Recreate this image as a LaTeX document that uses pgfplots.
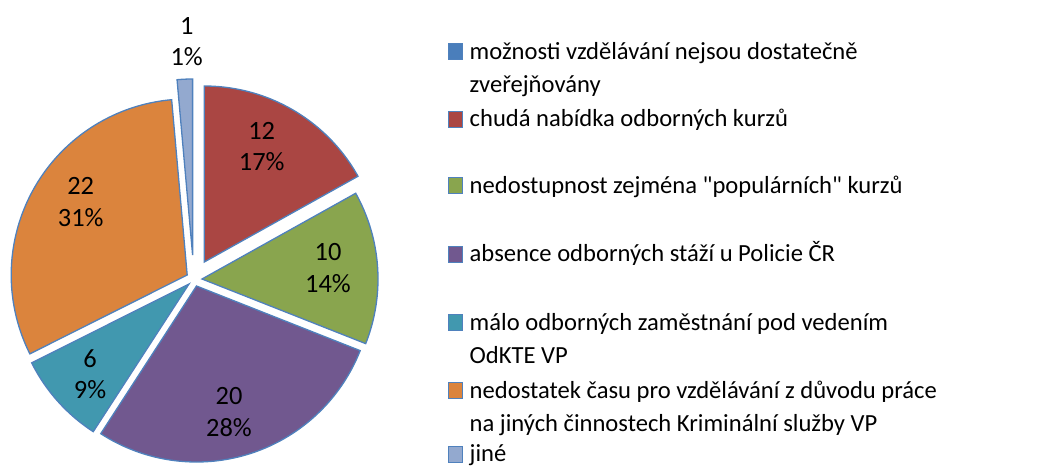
\documentclass[border=0pt]{standalone}
\usepackage{pgfplots}
\pgfplotsset{compat=1.18}
\usepackage{fontspec}
\setmainfont{Carlito}[Ligatures=TeXOff]
\definecolor{cA}{HTML}{4A7EBB}
\definecolor{cB}{HTML}{AA4643}
\definecolor{cC}{HTML}{89A54E}
\definecolor{cD}{HTML}{71588F}
\definecolor{cE}{HTML}{4198AF}
\definecolor{cF}{HTML}{DB843D}
\definecolor{cG}{HTML}{93A9CF}
\definecolor{edgeblue}{HTML}{4F81BD}
\def\total{71}
\def\cum{0}
% #1 value, #2 #3 slice centre (px), #4 colour
\newcommand\slice[4]{%
  \pgfmathsetmacro\sa{90-\cum*(360/\total)}%
  \pgfmathsetmacro\cumnew{\cum+#1}%
  \pgfmathsetmacro\sb{90-\cumnew*(360/\total)}%
  \global\let\cum\cumnew
  \edef\doit{\noexpand\addplot[fill=#4, draw=edgeblue, line width=0.65pt, domain=\sb:\sa, samples=90]
    ({#2+176*cos(x)},{#3-176*sin(x)}) -- (axis cs:#2,#3) -- cycle;}%
  \doit
}
% legend key: #1 colour, #2 baseline (px)
\newcommand\lkey[2]{%
  \pgfmathsetmacro\kt{#2-15.5}\pgfmathsetmacro\kb{#2+0.5}%
  \edef\doit{\noexpand\addplot[fill=#1, draw=edgeblue, line width=0.6pt]
    coordinates {(448.3,\kt) (462.7,\kt) (462.7,\kb) (448.3,\kb)} -- cycle;}%
  \doit
}
\begin{document}
\begin{tikzpicture}
\begin{axis}[width=522pt,height=233pt,scale only axis,
  xmin=0,xmax=1044,ymin=0,ymax=466,y dir=reverse,hide axis,clip=false]
\slice{12}{204.3}{262}{cB}
\slice{10}{202}{279}{cC}
\slice{20}{196.5}{286}{cD}
\slice{6}{189}{284}{cE}
\slice{22}{187.2}{275}{cF}
\slice{1}{192.6}{255}{cG}
\lkey{cA}{59.3}
\lkey{cB}{126.7}
\lkey{cC}{193.3}
\lkey{cD}{261.7}
\lkey{cE}{330}
\lkey{cF}{398.3}
\lkey{cG}{461.7}
\begin{scope}[every node/.style={anchor=base west,inner sep=0pt,font=\fontsize{12.3}{15}\selectfont}]
\node at (axis cs:469.3,59.3) {možnosti vzdělávání nejsou dostatečně};
\node at (axis cs:469.3,92.7) {zveřejňovány};
\node at (axis cs:469.3,126.7) {chudá nabídka odborných kurzů};
\node at (axis cs:469.3,193.3) {nedostupnost zejména "populárních" kurzů};
\node at (axis cs:469.3,261.7) {absence odborných stáží u Policie ČR};
\node at (axis cs:469.3,330) {málo odborných zaměstnání pod vedením};
\node at (axis cs:469.3,363.3) {OdKTE VP};
\node at (axis cs:469.3,398.3) {nedostatek času pro vzdělávání z důvodu práce};
\node at (axis cs:469.3,431.7) {na jiných činnostech Kriminální služby VP};
\node at (axis cs:469.3,461.7) {jiné};
\end{scope}
\begin{scope}[every node/.style={align=center,font=\fontsize{13.2}{15.6}\selectfont}]
\node at (axis cs:261.7,146.7) {12\\17\%};
\node at (axis cs:328,268) {10\\14\%};
\node at (axis cs:229,412) {20\\28\%};
\node at (axis cs:90,374) {6\\9\%};
\node at (axis cs:80.7,202) {22\\31\%};
\node at (axis cs:186.7,42) {1\\1\%};
\end{scope}
\coordinate (BL) at (axis cs:0,466);
\coordinate (TR) at (axis cs:1044,0);
\end{axis}
\pgfresetboundingbox
\path (BL) rectangle (TR);
\end{tikzpicture}
\end{document}
